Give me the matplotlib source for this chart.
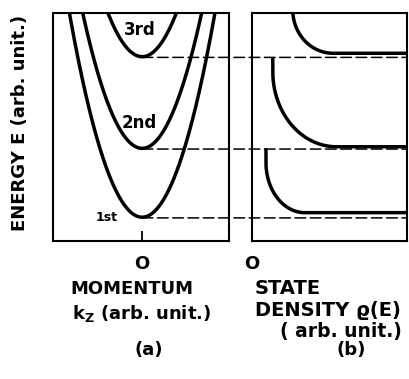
import numpy as np
import matplotlib
matplotlib.use("Agg")
from matplotlib import pyplot as plt
from matplotlib.patches import ConnectionPatch

# subband data (energy in arb. units, 0 = bottom, 1 = top)
subband_names = ["1st", "2nd", "3rd"]
subband_E = [0.103, 0.405, 0.807]        # parabola minima
curvature = [1.31, 1.30, 1.27]           # E = E_n + a * k^2

# density of states branches in panel (b): vertical start, rounded knee, flat tail
dos_x0 = [0.090, 0.134, 0.263]           # x where branch starts
dos_top = [0.397, 0.797, 1.03]           # energy where branch starts
dos_plateau = [0.123, 0.412, 0.822]      # flat level
dos_rx = [0.25, 0.41, 0.26]              # knee width
dos_ry = [0.22, 0.33, 0.19]              # knee height

# label positions (data coords of panel a)
label_x = [-0.40, -0.03, -0.03]
label_y = [0.10, 0.516, 0.924]
label_size = [9, 12, 12]

plt.rcParams['font.family'] = ['DejaVu Sans']
plt.rcParams['font.weight'] = 'bold'
plt.rcParams['mathtext.default'] = 'bf'

W, H = 409, 379
fig = plt.figure(figsize=(W / 100, H / 100), dpi=100)

def px_axes(x0, x1, y0, y1):
    return fig.add_axes([x0 / W, 1 - y1 / H, (x1 - x0) / W, (y1 - y0) / H])

ax1 = px_axes(53.3, 229.3, 12.7, 240.7)
ax2 = px_axes(252, 407, 12.7, 240.7)

for ax in (ax1, ax2):
    for s in ax.spines.values():
        s.set_linewidth(1.5)
    ax.set_ylim(0, 1)
    ax.set_yticks([])

# (a) parabolas
k = np.linspace(-1.2, 1.2, 500)
for En, a in zip(subband_E, curvature):
    ax1.plot(k, En + a * k ** 2, color='black', lw=2.5)
ax1.set_xlim(-1.01, 0.99)
ax1.set_xticks([0])
ax1.set_xticklabels(['O'], fontsize=13)
ax1.tick_params(axis='x', direction='in', length=7, width=1.3, pad=10.5)

for name, lx, ly, fs in zip(subband_names, label_x, label_y, label_size):
    ax1.text(lx, ly, name, fontsize=fs, fontweight='bold', ha='center', va='center')

# (b) density of states
t = np.linspace(0, np.pi / 2, 200)
for x0, Et, Ep, rx, ry in zip(dos_x0, dos_top, dos_plateau, dos_rx, dos_ry):
    xs = np.concatenate([[x0], x0 + rx * (1 - np.cos(t)), [1.05]])
    ys = np.concatenate([[Et], Ep + ry * (1 - np.sin(t)), [Ep]])
    ax2.plot(xs, ys, color='black', lw=2.5)
ax2.set_xlim(0, 1)
ax2.set_xticks([0])
ax2.set_xticklabels(['O'], fontsize=13)
ax2.tick_params(axis='x', length=0, pad=10.5)

# dashed lines from band minima across to the right panel
for En in subband_E:
    con = ConnectionPatch(xyA=(0, En - 0.003), coordsA=ax1.transData,
                          xyB=(1, En - 0.003), coordsB=ax2.transData,
                          color='black', lw=1.1, linestyle=(0, (7, 3)))
    fig.add_artist(con)

def ftext(x, y, s, size=13, **kw):
    fig.text(x / W, 1 - y / H, s, fontsize=size, fontweight='bold', va='center', **kw)

ftext(20, 123, 'ENERGY E (arb. unit.)', rotation=90, ha='center')
ftext(132, 289, 'MOMENTUM', ha='center')
ftext(142, 313, r'k$_{Z}$ (arb. unit.)', ha='center')
ftext(149, 350, '(a)', ha='center')
ftext(255, 289, 'STATE', size=14, ha='left')
ftext(255, 310, 'DENSITY ϱ(E)', size=14, ha='left')
ftext(280, 332, '( arb. unit.)', size=13.5, ha='left')
ftext(351, 350, '(b)', ha='center')

fig.savefig('out.png', dpi=100)
